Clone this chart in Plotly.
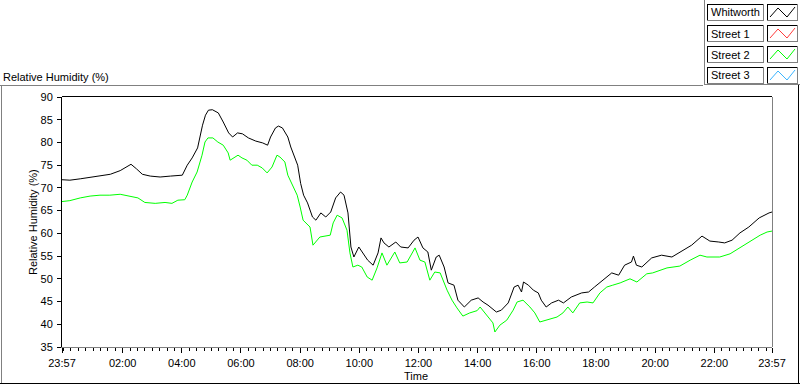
import pandas as pd
import plotly.graph_objects as go

# ---------------- data (minutes after the 23:57 start, relative humidity %) ----------------
start_time = "2000-01-01 23:57"

whitworth_min = [0, 16, 37, 57, 77, 98, 118, 130, 140, 151, 163, 179, 199, 220, 244, 254, 264, 275,
                 285, 291, 297, 305, 317, 327, 338, 346, 356, 366, 378, 393, 407, 417, 423, 433, 439,
                 447, 458, 464, 470, 478, 484, 490, 498, 508, 515, 525, 535, 545, 555, 565, 572, 580,
                 586, 592, 602, 610, 620, 631, 641, 647, 653, 663, 677, 687, 702, 714, 722, 732, 742,
                 749, 759, 765, 775, 783, 795, 803, 816, 830, 844, 854, 864, 881, 891, 905, 917, 925,
                 932, 936, 946, 956, 966, 972, 982, 993, 1007, 1017, 1033, 1054, 1068, 1080, 1090,
                 1104, 1115, 1129, 1141, 1155, 1159, 1165, 1176, 1196, 1216, 1237, 1257, 1277, 1298,
                 1314, 1332, 1344, 1359, 1375, 1393, 1414, 1434, 1440]
whitworth_rh = [71.8, 71.7, 72.0, 72.3, 72.6, 73.0, 73.8, 74.6, 75.2, 74.2, 73.0, 72.6, 72.4, 72.6,
                72.8, 75.0, 76.6, 78.8, 83.8, 86.0, 87.1, 87.2, 86.5, 84.5, 82.1, 81.2, 82.1, 81.9,
                81.0, 80.3, 79.9, 79.4, 81.2, 83.2, 83.6, 83.2, 81.2, 79.0, 77.2, 75.0, 71.0, 68.4,
                66.7, 63.6, 62.9, 64.5, 63.6, 64.7, 67.8, 69.1, 68.4, 64.5, 57.0, 54.8, 57.0, 55.7,
                54.1, 53.0, 55.7, 59.0, 57.9, 57.0, 58.1, 57.0, 56.8, 58.5, 59.2, 56.8, 55.9, 51.9,
                54.8, 55.2, 52.6, 49.1, 48.6, 45.3, 43.8, 45.3, 45.8, 44.9, 44.2, 42.7, 43.1, 44.7,
                48.2, 48.6, 47.1, 49.3, 48.6, 47.5, 46.9, 45.3, 43.8, 44.7, 45.3, 44.7, 46.0, 46.9,
                47.1, 48.2, 49.1, 50.4, 51.3, 50.8, 53.0, 53.7, 55.0, 53.0, 52.6, 54.6, 55.2, 54.8,
                56.1, 57.4, 59.4, 58.3, 58.1, 57.9, 58.5, 60.1, 61.4, 63.4, 64.5, 64.7]

street2_min = [0, 16, 37, 57, 77, 97, 118, 138, 154, 168, 189, 209, 223, 235, 249, 254, 264, 274,
               284, 290, 296, 306, 316, 327, 337, 341, 351, 357, 365, 375, 385, 396, 406, 416, 426,
               436, 442, 452, 458, 468, 477, 483, 489, 503, 509, 523, 544, 550, 558, 568, 578, 584,
               590, 600, 608, 619, 629, 639, 649, 659, 675, 685, 700, 716, 726, 736, 746, 756, 767,
               781, 791, 801, 813, 827, 842, 848, 858, 874, 878, 888, 902, 915, 923, 935, 949, 959,
               969, 984, 1004, 1016, 1026, 1036, 1050, 1065, 1077, 1091, 1105, 1117, 1132, 1152,
               1166, 1186, 1198, 1227, 1253, 1274, 1294, 1308, 1334, 1355, 1375, 1395, 1416, 1430,
               1440]
street2_rh = [67.0, 67.2, 67.8, 68.2, 68.4, 68.4, 68.6, 68.2, 67.8, 66.8, 66.6, 66.8, 66.6, 67.3,
              67.4, 68.4, 71.3, 73.5, 77.2, 80.1, 81.0, 81.0, 80.1, 79.4, 77.7, 76.1, 76.8, 77.2,
              76.6, 76.1, 75.0, 75.0, 74.4, 73.3, 74.6, 77.2, 76.8, 75.7, 72.8, 70.6, 68.4, 65.8,
              62.9, 61.4, 57.4, 59.2, 59.6, 62.3, 64.0, 63.4, 60.7, 55.7, 52.6, 53.0, 52.6, 50.4,
              49.7, 52.4, 55.7, 53.0, 55.9, 53.5, 53.7, 56.8, 54.1, 53.7, 49.7, 51.5, 51.3, 47.5,
              45.3, 43.6, 41.8, 42.5, 43.0, 43.8, 42.5, 40.3, 38.3, 39.8, 40.9, 43.1, 44.9, 45.3,
              43.8, 42.5, 40.5, 40.9, 41.6, 42.5, 43.8, 42.5, 44.7, 44.9, 44.7, 46.9, 48.2, 48.6,
              49.1, 50.0, 49.3, 51.1, 51.3, 52.4, 52.8, 54.1, 55.2, 54.8, 54.8, 55.5, 56.8, 58.1,
              59.6, 60.3, 60.5]

street1_min, street1_rh = [], []
street3_min, street3_rh = [], []

series_names = ["Whitworth", "Street 1", "Street 2", "Street 3"]
series_colors = ["#000000", "#ff3b3b", "#00ff00", "#3ab4ff"]

tick_labels = ["23:57", "02:00", "04:00", "06:00", "08:00", "10:00", "12:00",
               "14:00", "16:00", "18:00", "20:00", "22:00", "23:57"]
tick_clock = ["2000-01-01 23:57", "2000-01-02 02:00", "2000-01-02 04:00", "2000-01-02 06:00",
              "2000-01-02 08:00", "2000-01-02 10:00", "2000-01-02 12:00", "2000-01-02 14:00",
              "2000-01-02 16:00", "2000-01-02 18:00", "2000-01-02 20:00", "2000-01-02 22:00",
              "2000-01-02 23:57"]
y_range = [35, 90]

# ---------------- figure ----------------
t0 = pd.Timestamp(start_time)
def to_time(mins):
    return [t0 + pd.Timedelta(minutes=m) for m in mins]

all_min = [whitworth_min, street1_min, street2_min, street3_min]
all_rh = [whitworth_rh, street1_rh, street2_rh, street3_rh]

fig = go.Figure()
for name, col, mm, rr in zip(series_names, series_colors, all_min, all_rh):
    fig.add_trace(go.Scatter(x=to_time(mm), y=rr, mode="lines", name=name,
                             line=dict(color=col, width=1), showlegend=False))

W, H = 800, 386
L, R, T, B = 62, 772, 97, 347
def px(x):
    return (x - L) / (R - L)
def py(y):
    return (B - y) / (B - T)

FONT = "Liberation Sans, Arial, sans-serif"
shapes = []
def line(x0, y0, x1, y1, color, w=1):
    shapes.append(dict(type="line", xref="paper", yref="paper", x0=px(x0), y0=py(y0),
                       x1=px(x1), y1=py(y1), line=dict(color=color, width=w), layer="above"))

# plot-area top (black) and right (gray) borders
line(L, T - 0.5, R, T - 0.5, "black")
line(R + 0.5, T, R + 0.5, B, "#808080")

# outer frame
line(0, 85.5, 703, 85.5, "#808080")
line(1.5, 85.5, 1.5, 384, "#808080")
line(0, 383.5, 800, 383.5, "black")
line(798.5, 85, 798.5, 384, "black")
line(704.5, 84.5, 800, 84.5, "#808080")
line(704.5, 0, 704.5, 85, "#808080")

annotations = []
# legend (text boxes + line icons)
for i, (name, col) in enumerate(zip(series_names, series_colors)):
    top = 4 + 21 * i
    bot = top + 16
    for (a, b) in [(707, 763), (767, 797)]:
        line(a, top + 0.5, b, top + 0.5, "black")
        line(a + 0.5, top, a + 0.5, bot, "black")
        line(a, bot + 0.5, b + 1, bot + 0.5, "#808080")
        line(b + 0.5, top, b + 0.5, bot + 1, "#808080")
    shapes.append(dict(type="path", xref="paper", yref="paper",
                       path="M {} {} L {} {} L {} {} L {} {}".format(
                           px(770), py(bot - 3), px(778), py(top + 4),
                           px(787), py(bot - 3), px(795), py(top + 3)),
                       line=dict(color=col, width=1), layer="above"))
    annotations.append(dict(text=name, xref="paper", yref="paper", x=px(709), y=py((top + bot) / 2 + 0.5),
                            xanchor="left", yanchor="middle", showarrow=False,
                            font=dict(family=FONT, size=11, color="black")))

# titles
annotations.append(dict(text="Relative Humidity (%)", xref="paper", yref="paper", x=px(1), y=py(77),
                        xanchor="left", yanchor="middle", showarrow=False,
                        font=dict(family=FONT, size=11, color="black")))
annotations.append(dict(text="Relative Humidity (%)", xref="paper", yref="paper", x=px(33), y=py(222),
                        xanchor="center", yanchor="middle", showarrow=False, textangle=-90,
                        font=dict(family=FONT, size=11, color="black")))
annotations.append(dict(text="Time", xref="paper", yref="paper", x=px(416), y=py(376),
                        xanchor="center", yanchor="middle", showarrow=False,
                        font=dict(family=FONT, size=11, color="black")))

fig.update_layout(
    width=W, height=H,
    margin=dict(l=L, r=W - R, t=T, b=H - B, pad=0),
    paper_bgcolor="white", plot_bgcolor="white",
    font=dict(family=FONT, size=11, color="black"),
    showlegend=False,
    shapes=shapes, annotations=annotations,
    xaxis=dict(type="date", range=[tick_clock[0], tick_clock[-1]],
               tickmode="array", tickvals=tick_clock, ticktext=tick_labels,
               ticks="outside", ticklen=5, tickcolor="black", tickwidth=1,
               showline=True, linecolor="#808080", linewidth=1,
               showgrid=False, zeroline=False, ticklabelstandoff=1,
               minor=dict(ticks="outside", ticklen=3, tickcolor="black", tickwidth=1,
                          tickmode="linear", tick0="2000-01-02 00:00", dtick=15 * 60 * 1000,
                          showgrid=False)),
    yaxis=dict(range=y_range, dtick=5, tick0=35, ticks="outside", ticklen=4,
               tickcolor="black", showline=True, linecolor="black", linewidth=1,
               showgrid=False, zeroline=False, ticklabelstandoff=2),
)

fig.write_html("out.html", config={"displayModeBar": False},
               post_script="document.body.style.margin='0';document.body.style.overflow='hidden';")
